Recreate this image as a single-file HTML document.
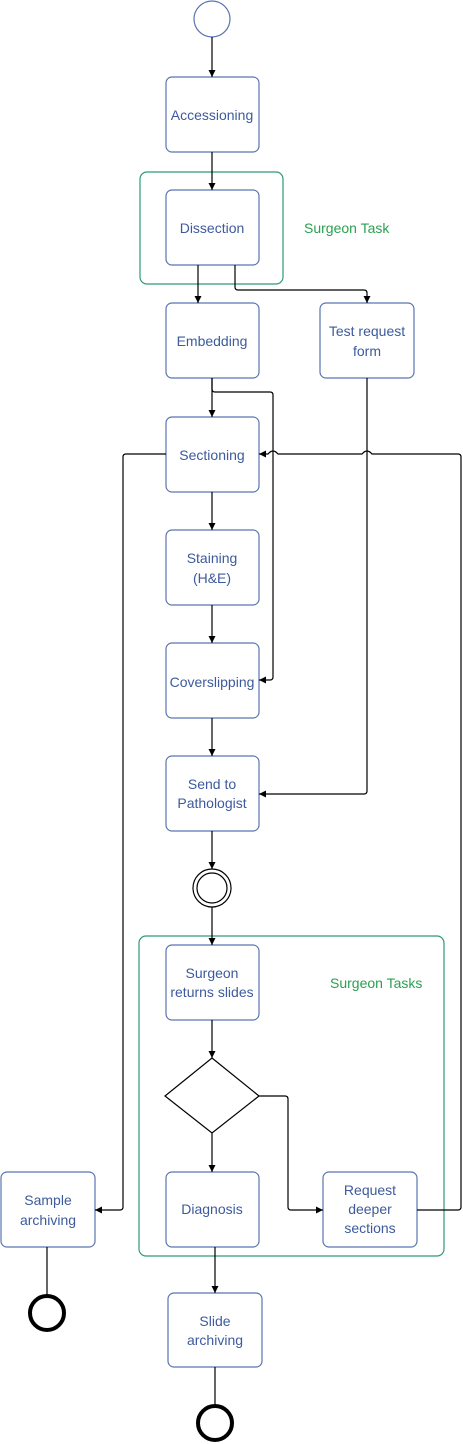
<!DOCTYPE html>
<html><head><style>html,body{margin:0;padding:0;background:#fff}</style></head>
<body>
<svg width="463" height="1444" viewBox="0 0 463 1444" xmlns="http://www.w3.org/2000/svg" style="display:block">
<defs>
<marker id="a" markerWidth="8" markerHeight="8" refX="7" refY="4" orient="auto" markerUnits="userSpaceOnUse">
<path d="M0,0.5 L7,4 L0,7.5 z" fill="#000"/></marker>
</defs>
<g fill="none" stroke="#2e9a78" stroke-width="1.2">
<rect x="140" y="172" width="143" height="112" rx="7"/>
<rect x="139" y="936" width="305" height="320" rx="7"/>
</g>
<g fill="#fff" stroke="#5a74b0" stroke-width="1.2">
<rect x="166" y="77" width="93" height="75" rx="6"/>
<rect x="166" y="190" width="93" height="75" rx="6"/>
<rect x="166" y="303" width="93" height="75" rx="6"/>
<rect x="320" y="303" width="94" height="75" rx="6"/>
<rect x="166" y="417" width="93" height="75" rx="6"/>
<rect x="166" y="530" width="93" height="75" rx="6"/>
<rect x="166" y="643" width="93" height="75" rx="6"/>
<rect x="166" y="756" width="93" height="75" rx="6"/>
<rect x="166" y="945" width="93" height="75" rx="6"/>
<rect x="166" y="1172" width="93" height="75" rx="6"/>
<rect x="323" y="1172" width="94" height="75" rx="6"/>
<rect x="1" y="1172" width="94" height="75" rx="6"/>
<rect x="168" y="1293" width="94" height="74" rx="6"/>
</g>
<circle cx="212" cy="19" r="18" fill="#fff" stroke="#5a74b0" stroke-width="1.2"/>
<circle cx="212" cy="888" r="19" fill="#fff" stroke="#000" stroke-width="1.2"/>
<circle cx="212" cy="888" r="15" fill="none" stroke="#000" stroke-width="1.2"/>
<circle cx="47" cy="1313" r="17" fill="#fff" stroke="#000" stroke-width="4"/>
<circle cx="215" cy="1423" r="17" fill="#fff" stroke="#000" stroke-width="4"/>
<polygon points="212,1058 259,1096 212,1133 165,1096" fill="#fff" stroke="#000" stroke-width="1.2"/>
<g fill="none" stroke="#000" stroke-width="1.2" marker-end="url(#a)">
<path d="M212,37 V77"/>
<path d="M212,152 V190"/>
<path d="M198,265 V303"/>
<path d="M235,265 V287 Q235,290 238,290 H364 Q367,290 367,293 V303"/>
<path d="M212,378 V417"/>
<path d="M212,378 V389 Q212,392 215,392 H270 Q273,392 273,395 V677 Q273,680 270,680 H259"/>
<path d="M367,378 V791 Q367,794 364,794 H259"/>
<path d="M166,454 H126 Q123,454 123,457 V1207 Q123,1210 120,1210 H95"/>
<path d="M417,1210 H458 Q461,1210 461,1207 V457 Q461,454 458,454 H372 Q367,448 362,454 H278 Q273,448 268,454 H259"/>
<path d="M212,492 V530"/>
<path d="M212,605 V643"/>
<path d="M212,718 V756"/>
<path d="M212,831 V869"/>
<path d="M212,907 V945"/>
<path d="M212,1020 V1058"/>
<path d="M212,1133 V1172"/>
<path d="M259,1096 H285 Q288,1096 288,1099 V1207 Q288,1210 291,1210 H323"/>
<path d="M215,1247 V1293"/>
</g>
<g fill="none" stroke="#000" stroke-width="1.2">
<path d="M47,1247 V1296"/>
<path d="M215,1367 V1406"/>
</g>
<g font-family="Liberation Sans, sans-serif" font-size="14" fill="#3d5a9c" text-anchor="middle">
<text x="212" y="120">Accessioning</text>
<text x="212" y="233">Dissection</text>
<text x="212" y="346">Embedding</text>
<text x="367" y="336">Test request</text>
<text x="367" y="356">form</text>
<text x="212" y="460">Sectioning</text>
<text x="212" y="563">Staining</text>
<text x="212" y="583">(H&amp;E)</text>
<text x="212" y="687">Coverslipping</text>
<text x="212" y="789">Send to</text>
<text x="212" y="808">Pathologist</text>
<text x="212" y="978">Surgeon</text>
<text x="212" y="997">returns slides</text>
<text x="212" y="1214">Diagnosis</text>
<text x="370" y="1195">Request</text>
<text x="370" y="1214">deeper</text>
<text x="370" y="1233">sections</text>
<text x="48" y="1205">Sample</text>
<text x="48" y="1225">archiving</text>
<text x="215" y="1326">Slide</text>
<text x="215" y="1345">archiving</text>
</g>
<g font-family="Liberation Sans, sans-serif" font-size="14" fill="#2aa050">
<text x="304" y="233">Surgeon Task</text>
<text x="330" y="988">Surgeon Tasks</text>
</g>
</svg>
</body></html>
